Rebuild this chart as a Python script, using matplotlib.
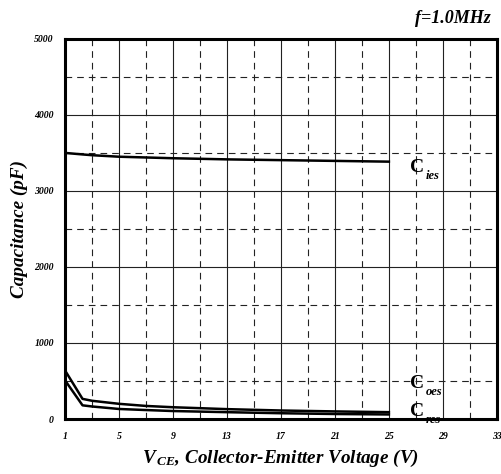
import matplotlib
matplotlib.use('Agg')
import matplotlib.pyplot as plt

vce = [1, 2.3, 3, 5, 7, 9, 13, 17, 21, 25]
c_ies = [3500, 3480, 3470, 3450, 3440, 3430, 3415, 3405, 3395, 3385]
c_oes = [640, 265, 240, 200, 172, 155, 130, 112, 100, 90]
c_res = [510, 180, 165, 132, 118, 105, 90, 76, 66, 60]

x_major = [1, 5, 9, 13, 17, 21, 25, 29, 33]
x_minor = [3, 7, 11, 15, 19, 23, 27, 31]
y_major = [0, 1000, 2000, 3000, 4000, 5000]
y_minor = [500, 1500, 2500, 3500, 4500]

serif = 'Liberation Serif'
plt.rcParams['mathtext.fontset'] = 'custom'
plt.rcParams['mathtext.it'] = 'Liberation Serif:italic:bold'
plt.rcParams['mathtext.rm'] = 'Liberation Serif:italic:bold'

fig = plt.figure(figsize=(5.01, 4.74), dpi=100)
ax = fig.add_axes([0.1297, 0.116, 0.862, 0.802])

ax.plot(vce, c_ies, color='black', lw=1.8, zorder=3)
ax.plot(vce, c_oes, color='black', lw=1.8, zorder=3)
ax.plot(vce, c_res, color='black', lw=1.8, zorder=3)

ax.set_xlim(1, 33)
ax.set_ylim(0, 5000)
ax.set_xticks(x_major)
ax.set_xticks(x_minor, minor=True)
ax.set_yticks(y_major)
ax.set_yticks(y_minor, minor=True)
ax.grid(which='major', color='#222222', lw=0.8)
ax.grid(which='minor', color='#222222', lw=0.8, linestyle=(0, (6, 4.5)))
ax.tick_params(which='both', length=0)
ax.tick_params(axis='x', pad=9)
ax.tick_params(axis='y', pad=8)
for lab in ax.get_xticklabels() + ax.get_yticklabels():
    lab.set_fontfamily(serif)
    lab.set_fontweight('bold')
    lab.set_fontstyle('italic')
    lab.set_fontsize(7)
for s in ax.spines.values():
    s.set_linewidth(2.2)
    s.set_zorder(5)

fig.text(19 / 501, 1 - 229 / 474, 'Capacitance (pF)', family=serif, weight='bold',
         style='italic', fontsize=13.8, rotation=90, ha='center', va='center')
ax.set_xlabel(r'V$_{\,CE}$, Collector-Emitter Voltage (V)', family=serif, weight='bold',
              style='italic', fontsize=13.8, labelpad=5)

fig.text(0.98, 0.962, 'f=1.0MHz', family=serif, weight='bold', style='italic',
         fontsize=13, ha='right', va='center')

# curve labels
for name, yv in [('ies', 3310), ('oes', 470), ('res', 100)]:
    ax.text(26.6, yv, 'C', family=serif, weight='bold', fontsize=14,
            ha='left', va='center', zorder=2)
    ax.text(27.7, yv - 110, name, family=serif, weight='bold', style='italic',
            fontsize=9, ha='left', va='center', zorder=2)

fig.savefig('out.png', dpi=100)
